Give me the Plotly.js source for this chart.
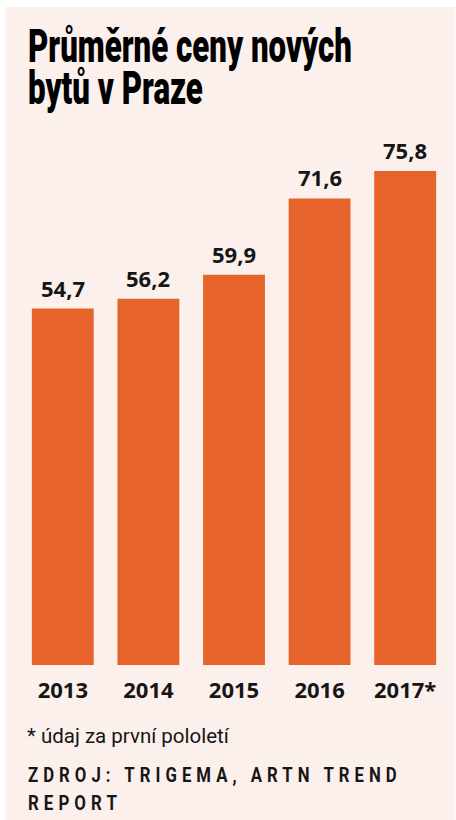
<!DOCTYPE html>
<html>
<head>
<meta charset="utf-8">
<script src="https://cdn.plot.ly/plotly-3.0.1.min.js"></script>
<style>
html,body{margin:0;padding:0;background:#fff;}
#chart{width:456px;height:820px;}
</style>
</head>
<body>
<div id="chart"></div>
<script>
var years = ['2013', '2014', '2015', '2016', '2017*'];
var prices = [54.7, 56.2, 59.9, 71.6, 75.8];
var priceLabels = ['54,7', '56,2', '59,9', '71,6', '75,8'];
var titleText = 'Průměrné ceny nových<br>bytů v Praze';
var footnote = '* údaj za první pololetí';
var sourceLines = ['ZDROJ: TRIGEMA, ARTN TREND', 'REPORT'];

var BG = '#fcf0ec';
var BAR = '#e6632b';
var INK = '#161616';
var NUMFONT = 'Open Sans, Liberation Sans, sans-serif';

var labelAnn = years.map(function (y, i) {
  return {
    x: i, y: prices[i], xref: 'x', yref: 'y',
    text: priceLabels[i], showarrow: false,
    xanchor: 'center', yanchor: 'bottom', yshift: 4,
    font: {family: NUMFONT, size: 22, color: INK, weight: 700}
  };
});

var extraAnn = [
  {xref: 'paper', yref: 'paper', x: 0, y: -72 / 565, xanchor: 'left', yanchor: 'middle', align: 'left',
   text: footnote, showarrow: false,
   font: {family: 'Roboto, sans-serif', size: 20, color: INK, weight: 400}},
  {xref: 'paper', yref: 'paper', x: 0, y: -109 / 565, xanchor: 'left', yanchor: 'middle', align: 'left',
   text: sourceLines[0], showarrow: false,
   font: {family: 'Roboto, sans-serif', size: 20, color: INK, weight: 700}},
  {xref: 'paper', yref: 'paper', x: 0, y: -137 / 565, xanchor: 'left', yanchor: 'middle', align: 'left',
   text: sourceLines[1], showarrow: false,
   font: {family: 'Roboto, sans-serif', size: 20, color: INK, weight: 700}}
];

var trace = {
  type: 'bar', x: years, y: prices,
  marker: {color: BAR},
  hoverinfo: 'skip'
};

var layout = {
  width: 456, height: 820,
  margin: {l: 20, r: 7.5, t: 100, b: 155},
  paper_bgcolor: '#ffffff',
  plot_bgcolor: 'rgba(0,0,0,0)',
  showlegend: false,
  bargap: 0.277,
  title: {
    text: titleText,
    xref: 'container', yref: 'container',
    x: 28 / 456, xanchor: 'left',
    y: 1 - 60 / 820, yanchor: 'bottom',
    font: {family: 'Roboto, sans-serif', size: 46, color: '#000', weight: 900}
  },
  xaxis: {
    type: 'category', range: [-0.5, 4.5], showgrid: false, zeroline: false, showline: false, ticks: '',
    ticklabelstandoff: 10,
    tickfont: {family: NUMFONT, size: 22, color: INK, weight: 700},
    fixedrange: true
  },
  yaxis: {
    range: [0, 86.7], visible: false, showgrid: false, zeroline: false, fixedrange: true
  },
  shapes: [
    {type: 'rect', layer: 'below', xref: 'paper', yref: 'paper',
     x0: -15 / 428.5, x1: 1 + 7.5 / 428.5, y0: -155 / 565, y1: 1 + 93 / 565,
     fillcolor: BG, line: {width: 0}}
  ],
  annotations: labelAnn.concat(extraAnn)
};

// place a text element: ink left edge, first baseline (page px), target width, optional letter spacing
function place(el, left, baseline, width, spacing) {
  if (spacing) el.style.letterSpacing = spacing + 'px';
  el.removeAttribute('transform');
  var bb = el.getBBox();
  var base0 = el.getStartPositionOfChar(0).y;
  var sx = width / bb.width;
  var M = el.parentNode.getScreenCTM();
  var lx = left - M.e, ly = baseline - M.f;
  el.setAttribute('transform',
    'translate(' + lx + ',' + ly + ') scale(' + sx + ',1) translate(' + (-bb.x) + ',' + (-base0) + ')');
}

Plotly.newPlot('chart', [trace], layout, {displayModeBar: false, staticPlot: true}).then(function () {
  var t = document.querySelector('.gtitle');
  if (t) {
    var lines = t.querySelectorAll('tspan.line');
    if (lines.length > 1) lines[1].setAttribute('dy', (42 / 46) + 'em');
    place(t, 28, 62, 324, 0);
  }
  var anns = document.querySelectorAll('.infolayer .annotation-text');
  anns.forEach(function (a) {
    var s = a.textContent;
    if (s === footnote) place(a, 27, 743, 203, 0);
    else if (s === sourceLines[0]) place(a, 28, 782, 374, 6);
    else if (s === sourceLines[1]) place(a, 28, 810, 94, 6);
  });
});
</script>
</body>
</html>
